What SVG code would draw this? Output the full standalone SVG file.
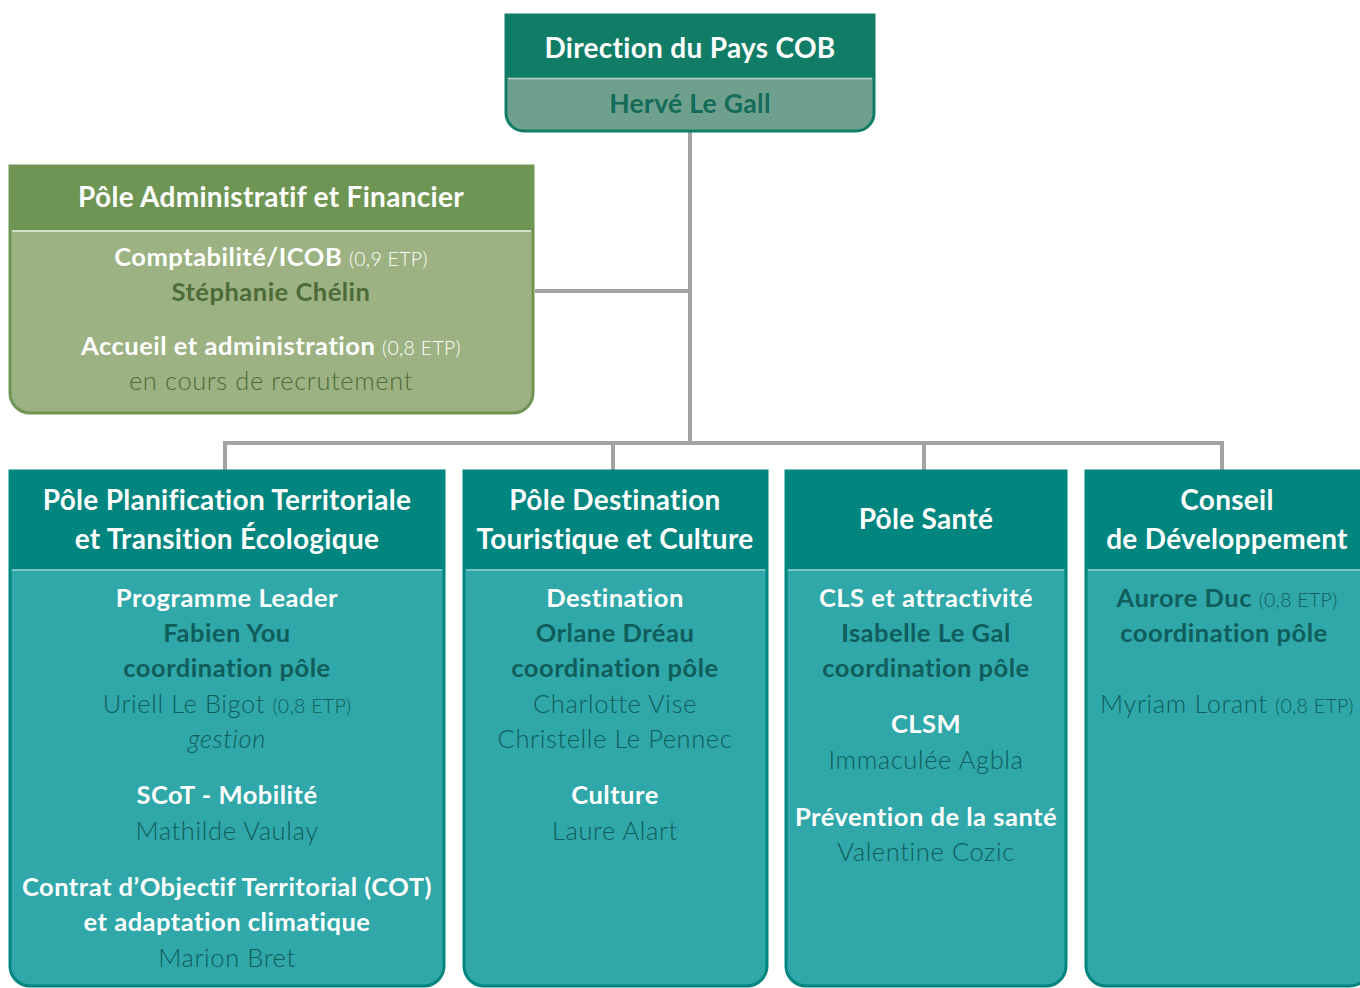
<svg xmlns="http://www.w3.org/2000/svg" width="1360" height="988" viewBox="0 0 1360 988">
<style>
text{font-family:Lato,"Open Sans","Noto Sans",sans-serif;text-anchor:middle}
.t{font-size:28px;font-weight:bold;fill:#fff;letter-spacing:0.3px}
.w{font-size:25.5px;font-weight:bold;fill:#fff;letter-spacing:0.5px}
.db{font-size:25.5px;font-weight:bold;fill:#0f5e5b;letter-spacing:0.5px}
.dn{font-size:25.5px;font-weight:300;fill:#0f5e5b;letter-spacing:0.6px}
.sm{font-size:19.5px;font-weight:300;letter-spacing:0.3px}
.conn{stroke:#a3a3a3;stroke-width:4;fill:none}
.teal{fill:#30a7a8;stroke:#00857f;stroke-width:3}
.tealh{fill:#00857f}
.sepT{stroke:#8fcfcd;stroke-width:1.5}
</style>
<g id="connectors">
<path class="conn" d="M690,132 V443"/>
<path class="conn" d="M535,291 H690"/>
<path class="conn" d="M225,470 V443 H1222 V470"/>
<path class="conn" d="M613,443 V470"/>
<path class="conn" d="M924,443 V470"/>
</g>
<g id="direction">
<path d="M506,15 H874 V113 A18,18 0 0 1 856,131 H524 A18,18 0 0 1 506,113 Z" fill="#6fa08e" stroke="#127d67" stroke-width="3"/>
<rect x="506" y="15" width="368" height="63" fill="#127d67"/>
<line x1="508" y1="78.5" x2="872" y2="78.5" stroke="#b9d4cb" stroke-width="1.5"/>
<text x="690" y="58" class="t">Direction du Pays COB</text>
<text x="690" y="113" style="font-size:26.5px;font-weight:bold;fill:#136b58;letter-spacing:0.3px">Hervé Le Gall</text>
</g>
<g id="admin">
<path d="M10,166 H533 V393 A20,20 0 0 1 513,413 H30 A20,20 0 0 1 10,393 Z" fill="#9cb282" stroke="#6e9553" stroke-width="3"/>
<rect x="10" y="166" width="523" height="64" fill="#6e9553"/>
<line x1="12" y1="231" x2="531" y2="231" stroke="#e8efe0" stroke-width="1.5"/>
<text x="271" y="207" class="t">Pôle Administratif et Financier</text>
<text x="271" y="266" class="w">Comptabilité/ICOB <tspan class="sm" fill="#fff">(0,9 ETP)</tspan></text>
<text x="271" y="301" style="font-size:25.5px;font-weight:bold;fill:#4d6b39;letter-spacing:0.5px">Stéphanie Chélin</text>
<text x="271" y="355" class="w">Accueil et administration <tspan class="sm" fill="#fff">(0,8 ETP)</tspan></text>
<text x="271" y="390" style="font-size:25.5px;font-weight:300;fill:#4d6b39;letter-spacing:0.6px">en cours de recrutement</text>
</g>
<g id="pole-planification">
<path class="teal" d="M10,471 H444 V966 A20,20 0 0 1 424,986 H30 A20,20 0 0 1 10,966 Z"/>
<rect class="tealh" x="10" y="471" width="434" height="98"/>
<line class="sepT" x1="12" y1="570" x2="442" y2="570"/>
<text x="227" y="510" class="t">Pôle Planification Territoriale</text>
<text x="227" y="549" class="t">et Transition Écologique</text>
<text x="227" y="607" class="w">Programme Leader</text>
<text x="227" y="642" class="db">Fabien You</text>
<text x="227" y="677" class="db">coordination pôle</text>
<text x="227" y="713" class="dn">Uriell Le Bigot <tspan class="sm">(0,8 ETP)</tspan></text>
<text x="227" y="748" class="dn" font-style="italic">gestion</text>
<text x="227" y="804" class="w">SCoT - Mobilité</text>
<text x="227" y="840" class="dn">Mathilde Vaulay</text>
<text x="227" y="896" class="w">Contrat d’Objectif Territorial (COT)</text>
<text x="227" y="931" class="w">et adaptation climatique</text>
<text x="227" y="967" class="dn">Marion Bret</text>
</g>
<g id="pole-destination">
<path class="teal" d="M464,471 H767 V966 A20,20 0 0 1 747,986 H484 A20,20 0 0 1 464,966 Z"/>
<rect class="tealh" x="464" y="471" width="303" height="98"/>
<line class="sepT" x1="466" y1="570" x2="765" y2="570"/>
<text x="615" y="510" class="t">Pôle Destination</text>
<text x="615" y="549" class="t">Touristique et Culture</text>
<text x="615" y="607" class="w">Destination</text>
<text x="615" y="642" class="db">Orlane Dréau</text>
<text x="615" y="677" class="db">coordination pôle</text>
<text x="615" y="713" class="dn">Charlotte Vise</text>
<text x="615" y="748" class="dn">Christelle Le Pennec</text>
<text x="615" y="804" class="w">Culture</text>
<text x="615" y="840" class="dn">Laure Alart</text>
</g>
<g id="pole-sante">
<path class="teal" d="M786,471 H1066 V966 A20,20 0 0 1 1046,986 H806 A20,20 0 0 1 786,966 Z"/>
<rect class="tealh" x="786" y="471" width="280" height="98"/>
<line class="sepT" x1="788" y1="570" x2="1064" y2="570"/>
<text x="926" y="529" class="t">Pôle Santé</text>
<text x="926" y="607" class="w">CLS et attractivité</text>
<text x="926" y="642" class="db">Isabelle Le Gal</text>
<text x="926" y="677" class="db">coordination pôle</text>
<text x="926" y="733" class="w">CLSM</text>
<text x="926" y="769" class="dn">Immaculée Agbla</text>
<text x="926" y="826" class="w">Prévention de la santé</text>
<text x="926" y="861" class="dn">Valentine Cozic</text>
</g>
<g id="conseil">
<path class="teal" d="M1086,471 H1370 V966 A20,20 0 0 1 1350,986 H1106 A20,20 0 0 1 1086,966 Z"/>
<rect class="tealh" x="1086" y="471" width="284" height="98"/>
<line class="sepT" x1="1088" y1="570" x2="1368" y2="570"/>
<text x="1227" y="510" class="t">Conseil</text>
<text x="1227" y="549" class="t">de Développement</text>
<text x="1227" y="607" class="db">Aurore Duc <tspan class="sm">(0,8 ETP)</tspan></text>
<text x="1224" y="642" class="db">coordination pôle</text>
<text x="1227" y="713" class="dn">Myriam Lorant <tspan class="sm">(0,8 ETP)</tspan></text>
</g>
</svg>
